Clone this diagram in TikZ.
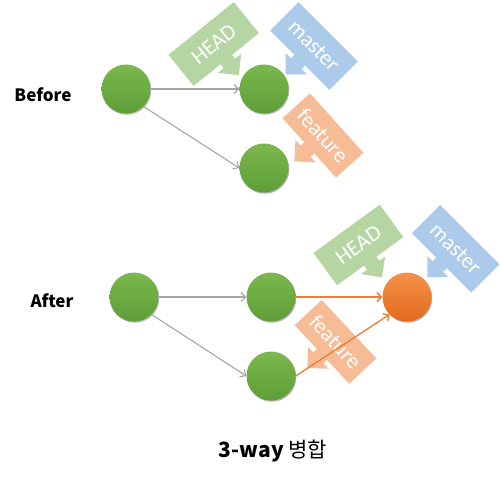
\documentclass[tikz,border=0pt]{standalone}
\usepackage{fontspec}
\setmainfont{Carlito}
\newfontfamily\kr{Noto Sans CJK KR}
\usetikzlibrary{arrows.meta,shadows}
\definecolor{headgreen}{HTML}{B5D5A3}
\definecolor{masterblue}{HTML}{ACCBEA}
\definecolor{featorange}{HTML}{F6BC96}
\definecolor{cgtop}{HTML}{7BB84D}
\definecolor{cgbot}{HTML}{5E9E37}
\definecolor{cotop}{HTML}{F4924B}
\definecolor{cobot}{HTML}{E4691B}
\definecolor{linegray}{HTML}{A6A6A6}
\definecolor{lineorange}{HTML}{ED7D31}
\tikzset{
  commit/.style={circle, minimum size=49pt, inner sep=0pt, top color=cgtop, bottom color=cgbot,
    drop shadow={shadow xshift=0.8pt, shadow yshift=-1.2pt, opacity=0.3, fill=black}},
  merged/.style={commit, top color=cotop, bottom color=cobot},
  grayarrow/.style={draw=linegray, line width=1.1pt, -{Straight Barb[length=4.5pt,width=9pt]}},
  orangearrow/.style={draw=lineorange, line width=1.3pt, -{Straight Barb[length=4.5pt,width=9pt]}},
  calltext/.style={text=white, font=\fontsize{22}{26}\selectfont, inner sep=0pt},
  sidelabel/.style={font=\kr\bfseries\fontsize{17}{20}\selectfont}
}
% #1 cx, #2 cy, #3 angle, #4 half width, #5 half height, #6 colour, #7 text, #8 name
\newcommand\mycallout[8]{%
  \begin{scope}[shift={(#1,#2)},rotate=#3]
    \fill[#6] (-#4,-#5) -- (#4,-#5) -- (#4,#5) -- (7.5,#5) -- (7.5,#5+5) -- (15,#5+5)
      -- (0,#5+20) -- (-15,#5+5) -- (-7.5,#5+5) -- (-7.5,#5) -- (-#4,#5) -- cycle;
    \node[calltext,rotate=#3] (#8) at (0,0) {#7};
  \end{scope}}
\begin{document}
\begin{tikzpicture}[x=1pt,y=-1pt]
\useasboundingbox (0,0) rectangle (500,481);
% callouts
\mycallout{213.7}{44}{39}{42}{20}{headgreen}{HEAD}{headA}
\mycallout{314}{46}{-45}{42}{20}{masterblue}{master}{masterA}
\mycallout{323}{135.5}{-48}{40}{18.5}{featorange}{feature}{featureA}
\mycallout{358.4}{245}{36}{41}{20}{headgreen}{HEAD}{headB}
\mycallout{455.6}{248.8}{-45}{42}{20}{masterblue}{master}{masterB}
\mycallout{335.5}{341.8}{-47}{40}{18.5}{featorange}{feature}{featureB}
% commits
\node[commit] (c1) at (126,89) {};
\node[commit] (c2) at (264,89) {};
\node[commit] (c3) at (264,168) {};
\node[commit] (c4) at (134,297) {};
\node[commit] (c5) at (271,297) {};
\node[commit] (c6) at (271,376) {};
\node[merged] (c7) at (407,297) {};
% connectors
\draw[grayarrow] (c1.east) -- (c2.west);
\draw[grayarrow] (c1.south east) -- (c3.west);
\draw[grayarrow] (c4.east) -- (c5.west);
\draw[grayarrow] (c4.south east) -- (c6.west);
\draw[orangearrow] (c5.east) -- (c7.west);
\draw[orangearrow] (c6.east) -- (c7.south west);
% labels
\node[sidelabel] (before) at (43,95) {Before};
\node[sidelabel] (after) at (52,301) {After};
\node[font=\kr\fontsize{21}{25}\selectfont] (title) at (273,451) {\textbf{3-way} 병합};
\end{tikzpicture}
\end{document}
